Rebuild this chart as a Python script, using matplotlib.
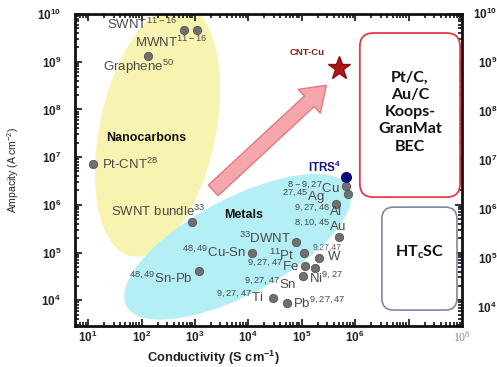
import numpy as np
import matplotlib
matplotlib.use('Agg')
import matplotlib.pyplot as plt
from matplotlib.patches import FancyBboxPatch
from matplotlib.ticker import FixedLocator, LogLocator, NullFormatter

plt.rcParams['font.family'] = ['Liberation Sans', 'DejaVu Sans']
plt.rcParams['mathtext.fontset'] = 'custom'
plt.rcParams['mathtext.rm'] = 'Liberation Sans'
plt.rcParams['mathtext.bf'] = 'Liberation Sans:bold'
plt.rcParams['mathtext.default'] = 'regular'

# ---------------- data ----------------
nc_names = ['SWNT', 'MWNT', 'Graphene', 'Pt-CNT', 'SWNT bundle']
nc_cond = [620, 1.1e3, 135, 12.4, 870]
nc_amp = [4.6e9, 4.6e9, 1.3e9, 7.2e6, 4.4e5]
nc_refs = ['11-16', '11-16', '50', '28', '33']

m_names = ['Sn-Pb', 'Cu-Sn', 'DWNT', 'Pt', 'W', 'Fe', 'Sn', 'Ni', 'Ti', 'Pb',
           'Cu', 'Ag', 'Al', 'Au']
m_cond = [1.2e3, 1.17e4, 7.9e4, 1.1e5, 2.1e5, 1.17e5, 1.74e5, 1.07e5, 2.9e4,
          5.4e4, 6.6e5, 7.2e5, 4.3e5, 5.0e5]
m_amp = [4.1e4, 1.0e5, 1.66e5, 1.0e5, 7.6e4, 5.2e4, 4.7e4, 3.2e4, 1.1e4,
         8.7e3, 2.45e6, 1.7e6, 1.05e6, 2.1e5]
m_refs = ['48,49', '48,49', '33', '11', '9,27,47', '9,27,47', '9,27,47', '9,27',
          '9,27,47', '9,27,47', '8-9, 27', '27,45', '9,27,46', '8,10,45']

itrs_cond, itrs_amp = 6.6e5, 3.8e6
cntcu_cond, cntcu_amp = 4.9e5, 7.4e8
arrow_from = (2.2e3, 2.0e6)
arrow_to = (2.9e5, 3.2e8)

x_ticks = [1e1, 1e2, 1e3, 1e4, 1e5, 1e6, 1e7, 1e8]
x_ticklabels = ['$10^{1}$', '$10^{2}$', '$10^{3}$', '$10^{4}$', '$10^{5}$',
                '$10^{6}$', '', '$10^{8}$']
y_ticks = [1e4, 1e5, 1e6, 1e7, 1e8, 1e9, 1e10]
y_ticklabels = ['$10^{4}$', '$10^{5}$', '$10^{6}$', '$10^{7}$', '$10^{8}$',
                '$10^{9}$', '$10^{10}$']

# ---------------- layout ----------------
W, H = 497, 367
fig = plt.figure(figsize=(W / 100, H / 100), dpi=100)
fig.patch.set_facecolor('white')
ax = fig.add_axes([75 / W, (H - 326) / H, 387 / W, 312 / H])
ax.set_xscale('log')
ax.set_yscale('log')
ax.set_xlim(10 ** 0.755, 1e8)
ax.set_ylim(10 ** 3.46, 1e10)

# region ellipses (center in data, semi-axes in display px, angle in deg)
def region(center, a, b, ang, color):
    cx, cy = ax.transData.transform(center)
    t = np.linspace(0, 2 * np.pi, 200)
    th = np.deg2rad(ang)
    px = cx + a * np.cos(t) * np.cos(th) - b * np.sin(t) * np.sin(th)
    py = cy + a * np.cos(t) * np.sin(th) + b * np.sin(t) * np.cos(th)
    d = ax.transData.inverted().transform(np.column_stack([px, py]))
    ax.fill(d[:, 0], d[:, 1], color=color, lw=0, zorder=1)

region((10 ** 2.30, 10 ** 7.55), 128, 58, 78, '#f8f3b0')
region((10 ** 3.80, 10 ** 5.12), 126, 48, 28, '#b3eff5')

# arrow
ax.annotate('', xy=arrow_to, xytext=arrow_from,
            arrowprops=dict(arrowstyle='simple,head_length=1.3,head_width=1.8,tail_width=0.8',
                            fc='#f4a6aa', ec='#e27a80', lw=1, mutation_scale=13,
                            shrinkA=0, shrinkB=0), zorder=3)

# points
ax.plot(nc_cond, nc_amp, 'o', ms=6, color='#707070', mec='#555555', mew=0.6, zorder=4)
ax.plot(m_cond, m_amp, 'o', ms=6, color='#707070', mec='#555555', mew=0.6, zorder=4)
ax.plot([itrs_cond], [itrs_amp], 'o', ms=7, color='#0a0a7a', zorder=4)
ax.plot([cntcu_cond], [cntcu_amp], '*', ms=17, color='#b01515', mec='#8a0d0d', zorder=4)

lab_color = '#4a4a4a'
fs = 9.5
nc_layout = {
    'SWNT': ('right', -6, 6), 'MWNT': ('right', 10, -12),
    'Graphene': ('center', -10, -11), 'Pt-CNT': ('left', 9, 0),
    'SWNT bundle': ('right', 14, 10),
}
for n, xv, yv, r in zip(nc_names, nc_cond, nc_amp, nc_refs):
    ha, dx, dy = nc_layout[n]
    ax.annotate(n + '$^{%s}$' % r, (xv, yv), xytext=(dx, dy), textcoords='offset pixels',
                ha=ha, va='center', fontsize=fs, color=lab_color, zorder=5)

m_layout = {
    'Sn-Pb': ('right', -6, -7, 'pre'), 'Cu-Sn': ('right', -6, 0, 'pre'),
    'DWNT': ('right', -5, 4, 'pre'), 'Pt': ('right', -10, -3, 'pre'),
    'W': ('left', 9, 1, 'above'), 'Fe': ('right', -7, 0, 'pre'),
    'Sn': ('right', -18, -16, 'pre'), 'Ni': ('left', 6, -2, 'post'),
    'Ti': ('right', -10, 1, 'pre'), 'Pb': ('left', 6, 0, 'post'),
    'Cu': ('right', -6, -2, 'pre'), 'Ag': ('right', -23, -3, 'pre'),
    'Al': ('right', 6, -8, 'pre'), 'Au': ('right', 7, 11, 'pre'),
}
for n, xv, yv, r in zip(m_names, m_cond, m_amp, m_refs):
    ha, dx, dy, mode = m_layout[n]
    if mode == 'pre':
        s = '${}^{%s}$' % r + n
    elif mode == 'post':
        s = n + '$^{%s}$' % r
    else:
        s = n
        ax.annotate(r, (xv, yv), xytext=(dx - 15, dy + 10), textcoords='offset pixels',
                    ha='left', va='center', fontsize=6.3, color='#666666', zorder=5)
    ax.annotate(s, (xv, yv), xytext=(dx, dy), textcoords='offset pixels',
                ha=ha, va='center', fontsize=fs, color=lab_color, zorder=5)

ax.annotate('ITRS$^{4}$', (itrs_cond, itrs_amp), xytext=(-4, 10), textcoords='offset pixels',
            ha='right', va='center', fontsize=8.5, fontweight='bold', color='#16168a', zorder=5)
ax.annotate('CNT-Cu', (cntcu_cond, cntcu_amp), xytext=(-31, 15), textcoords='offset pixels',
            ha='center', va='center', fontsize=6.8, fontweight='bold', color='#8e1a1a', zorder=5)

ax.text(123, 2.5e7, 'Nanocarbons', ha='center', va='center', fontsize=9,
        fontweight='bold', color='#111111', zorder=5)
ax.text(8.3e3, 6.2e5, 'Metals', ha='center', va='center', fontsize=9,
        fontweight='bold', color='#111111', zorder=5)

# boxes
asp = 387 / 312
red = FancyBboxPatch((0.736, 0.413), 0.259, 0.526, transform=ax.transAxes,
                     boxstyle='round,pad=0,rounding_size=0.035', mutation_aspect=asp,
                     fc='white', ec='#e23c48', lw=1.3, zorder=2)
blue = FancyBboxPatch((0.793, 0.051), 0.194, 0.330, transform=ax.transAxes,
                      boxstyle='round,pad=0,rounding_size=0.03', mutation_aspect=asp,
                      fc='white', ec='#7d88aa', lw=1.2, zorder=2)
ax.add_patch(red)
ax.add_patch(blue)
ax.text(0.736 + 0.259 / 2, 0.413 + 0.526 / 2 + 0.01, 'Pt/C,\nAu/C\nKoops-\nGranMat\nBEC',
        transform=ax.transAxes, ha='center', va='center', fontsize=11.5,
        fontweight='bold', family='Lato', color='#111111', linespacing=1.3, zorder=5)
ax.text(0.793 + 0.194 / 2, 0.051 + 0.330 / 2 + 0.02, 'HT$_{c}$SC', transform=ax.transAxes,
        ha='center', va='center', fontsize=11.5, fontweight='bold', family='Lato',
        color='#111111', zorder=5)

# axes styling
ax.xaxis.set_major_locator(FixedLocator(x_ticks))
ax.set_xticklabels(x_ticklabels)
ax.yaxis.set_major_locator(FixedLocator(y_ticks))
ax.set_yticklabels(y_ticklabels)
ax.xaxis.set_minor_locator(LogLocator(base=10, subs=np.arange(2, 10), numticks=20))
ax.yaxis.set_minor_locator(LogLocator(base=10, subs=np.arange(2, 10), numticks=20))
ax.xaxis.set_minor_formatter(NullFormatter())
ax.yaxis.set_minor_formatter(NullFormatter())
ax.tick_params(which='both', direction='in', top=True, right=True, width=1.2,
               color='#111111')
ax.tick_params(which='major', length=5)
ax.tick_params(which='minor', length=3)
ax.tick_params(axis='x', pad=3, labelsize=8.5, labelcolor='#222222')
ax.tick_params(axis='y', pad=10, labelsize=8.5, labelcolor='#222222')
for lab in ax.get_xticklabels() + ax.get_yticklabels():
    lab.set_fontweight('bold')
last = ax.get_xticklabels()[-1]
last.set_fontweight('normal')
last.set_family('Liberation Serif')
last.set_color('#888888')
for sp in ax.spines.values():
    sp.set_linewidth(2)
    sp.set_color('#111111')

ax.set_xlabel('Conductivity (S cm$^{-1}$)', fontsize=9.3, fontweight='bold', color='#222222')
ax.xaxis.set_label_coords(0.357, -0.072)
ax.set_ylabel('Ampacity (A cm$^{-2}$)', fontsize=7.5, color='#222222')
ax.yaxis.set_label_coords(-0.14, 0.50)

# neighbouring panel's axis, cut by the figure edge
ax2 = fig.add_axes([511 / W, (H - 326) / H, 0.3, 313 / H])
ax2.set_yscale('log')
ax2.set_ylim(10 ** 3.61, 1e10)
ax2.yaxis.set_major_locator(FixedLocator(y_ticks))
ax2.set_yticklabels(y_ticklabels)
ax2.yaxis.set_minor_formatter(NullFormatter())
ax2.set_xticks([])
ax2.tick_params(axis='y', pad=10, labelsize=8.5, labelcolor='#222222', length=0, which='both')
for lab in ax2.get_yticklabels():
    lab.set_fontweight('bold')
for sp in ax2.spines.values():
    sp.set_visible(False)
ax2.patch.set_visible(False)

fig.savefig('out.png', dpi=100, facecolor='white')
